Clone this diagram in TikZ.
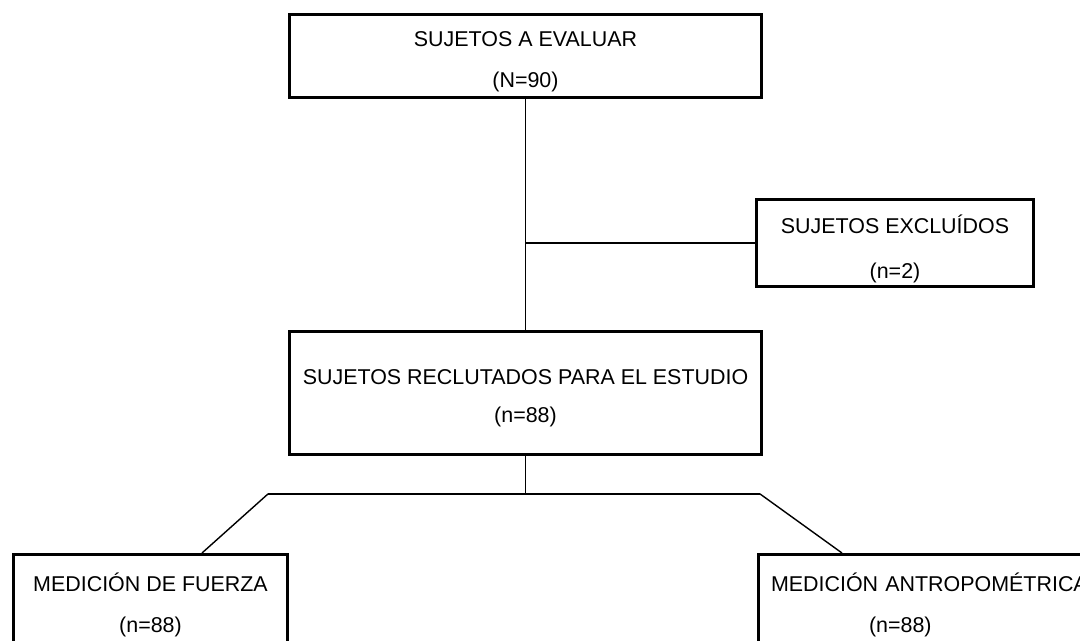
\documentclass[tikz,border=0pt]{standalone}
\usepackage{fontspec}
\setmainfont{Liberation Sans}
\usetikzlibrary{positioning}
\newcommand{\bajar}[1]{\rule{0pt}{#1}}

\begin{document}
\begin{tikzpicture}[
    x=0.02cm, y=-0.02cm,
    box/.style={rectangle, draw, line width=1.7pt, align=center, inner sep=0pt, font=\fontsize{12.2}{14}\selectfont},
    link/.style={line width=0.8pt},
    ]
    \useasboundingbox (0,0) rectangle (1080,640);
    % Main flow
    \node[box, minimum width=9.44cm, minimum height=1.66cm] (evaluar) at (525.5,56) {\bajar{15pt}SUJETOS A EVALUAR\\[9pt](N=90)};
    \node[box, minimum width=9.44cm, minimum height=2.46cm, below=4.62cm of evaluar] (reclutados) {\bajar{15pt}SUJETOS RECLUTADOS PARA EL ESTUDIO\\[7.6pt](n=88)};
    \node[box, minimum width=5.54cm, minimum height=1.74cm] (excluidos) at (895,243) {\bajar{17pt}SUJETOS EXCLU\'IDOS\\[11.6pt](n=2)};
    % Measurements
    \node[box, minimum width=5.48cm, minimum height=2.02cm] (fuerza) at (150.5,605) {MEDICI\'ON DE FUERZA\\[9.3pt](n=88)};
    \node[box, minimum width=6.9cm, minimum height=2.02cm, text width=6.4cm, align=left] (antropo) at (931,605) {MEDICI\'ON ANTROPOM\'ETRICA\\[9.3pt]\hspace*{1.96cm}(n=88)};
    % Help coordinates for the branches
    \coordinate (ramaExcl) at (evaluar.south |- excluidos.west);
    \coordinate[below=0.76cm of reclutados] (nudo);
    \coordinate[left=5.15cm of nudo] (nudoIzq);
    \coordinate[right=4.69cm of nudo] (nudoDer);
    \coordinate (entFuerza) at ([xshift=1.03cm]fuerza.north);
    \coordinate (entAntropo) at ([xshift=-1.78cm]antropo.north);

    % Edges
    \draw[link] (evaluar) -- (reclutados);
    \draw[link] (ramaExcl) -- (excluidos);
    \draw[link] (reclutados) -- (nudo);
    \draw[link] (nudoIzq) -- (nudoDer);
    \draw[link] (nudoIzq) -- (entFuerza);
    \draw[link] (nudoDer) -- (entAntropo);
\end{tikzpicture}
\end{document}
